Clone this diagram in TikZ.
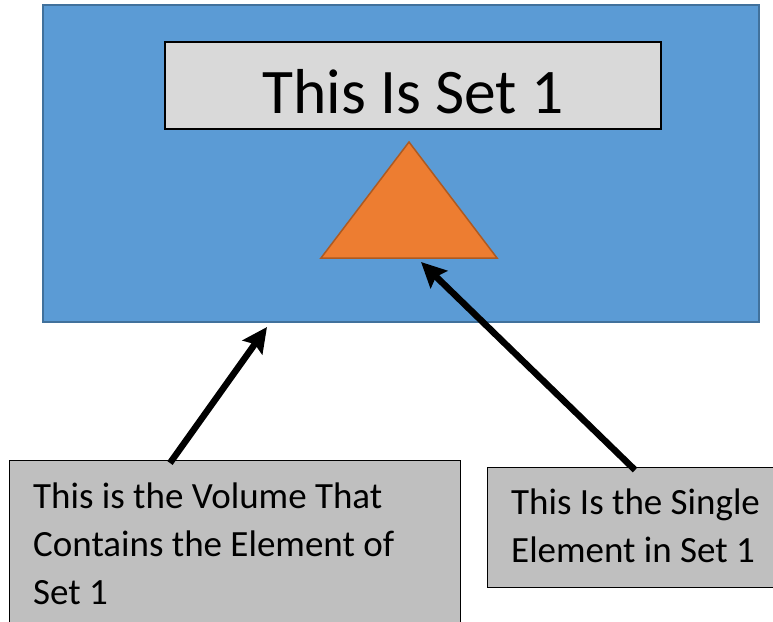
\documentclass[tikz,border=0pt]{standalone}
\usepackage{fontspec}
\setmainfont{Carlito}
\usetikzlibrary{arrows.meta}
\definecolor{setblue}{HTML}{5B9BD5}
\definecolor{setblueedge}{HTML}{41719C}
\definecolor{titlegray}{HTML}{D9D9D9}
\definecolor{boxgray}{HTML}{BFBFBF}
\definecolor{elemorange}{HTML}{ED7D31}
\definecolor{elemedge}{HTML}{AE5A21}
\tikzset{
  volume/.style={draw=setblueedge, fill=setblue, line width=1.5pt},
  titlebox/.style={draw=black, fill=titlegray, line width=1.5pt},
  callout/.style={draw=black, fill=boxgray, line width=1.2pt},
  element/.style={draw=elemedge, fill=elemorange, line width=1.5pt, line join=miter},
  pointer/.style={line width=6.5pt, -{Stealth[width=24pt,length=25pt,inset=4pt]}},
  calltext/.style={anchor=base west, inner sep=0pt, font=\fontsize{37}{48}\selectfont, align=left}
}
\begin{document}
\begin{tikzpicture}[x=1pt,y=-1pt]
\useasboundingbox (0,0) rectangle (773,621);
\clip (0,0) rectangle (773,621);
\fill[white] (0,0) rectangle (773,621);
% blue set volume
\path[volume] (43,5) rectangle (759,322);
\node[inner sep=0pt, minimum width=716pt, minimum height=317pt] (set) at (401,163.5) {};
% title box
\node[titlebox, minimum width=496pt, minimum height=87pt, inner sep=0pt] (title) at (413,85.5) {};
\node[anchor=base, inner sep=0pt, font=\fontsize{63.5}{66}\selectfont] (titletext) at (413,113) {This Is Set 1};
% triangle element
\coordinate (tA) at (409,142);
\coordinate (tB) at (321,258);
\coordinate (tC) at (497,258);
\path[element] (tA) -- (tB) -- (tC) -- cycle;
% callout boxes
\node[callout, minimum width=451pt, minimum height=200pt, inner sep=0pt, anchor=north west] (vol) at (9,460) {};
\node[callout, minimum width=300pt, minimum height=120pt, inner sep=0pt, anchor=north west] (single) at (487,467) {};
\node[calltext] (voltext) at (33,604) {This is the Volume That\\Contains the Element of\\Set 1};
\node[calltext] (singletext) at (511,562) {This Is the Single\\Element in Set 1};
% arrows
\coordinate (a1s) at (170,463);
\coordinate (a1e) at (267,327);
\coordinate (a2s) at (635,470);
\coordinate (a2e) at (421,262);
\draw[pointer] (a1s) -- (a1e);
\draw[pointer] (a2s) -- (a2e);
\end{tikzpicture}
\end{document}
